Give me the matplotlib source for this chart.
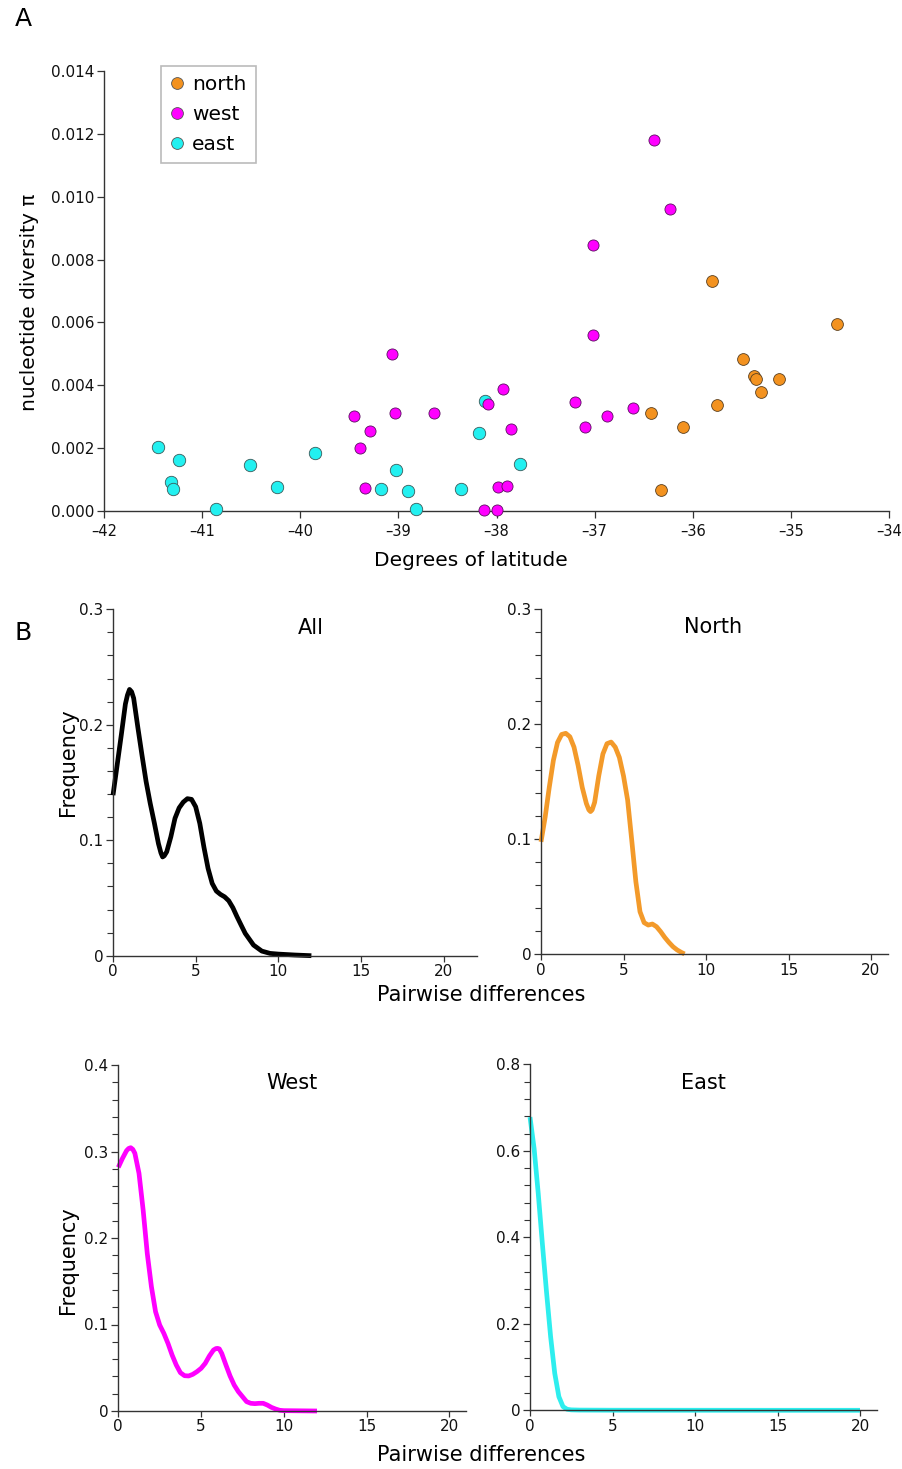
import matplotlib
matplotlib.use("Agg")
import matplotlib.pyplot as plt
from matplotlib.ticker import MultipleLocator, FuncFormatter
from matplotlib.lines import Line2D

plt.rcParams['font.family'] = ['DejaVu Sans']

# ---------------- Panel A: nucleotide diversity vs latitude ----------------
north_lat = [-35.80, -34.53, -35.49, -35.38, -35.36, -35.12, -35.30, -35.75,
             -36.43, -36.10, -36.32]
north_pi = [0.00733, 0.00596, 0.00484, 0.00429, 0.00420, 0.00420, 0.00380,
            0.00338, 0.00312, 0.00268, 0.00066]

west_lat = [-39.45, -39.29, -39.39, -39.34, -39.06, -39.03, -38.64, -38.09,
            -37.93, -37.85, -37.98, -37.89, -38.13, -37.99, -37.20, -37.10,
            -36.87, -36.61, -37.02, -37.02, -36.40, -36.23]
west_pi = [0.00303, 0.00256, 0.00201, 0.00074, 0.00501, 0.00312, 0.00312,
           0.00339, 0.00388, 0.00262, 0.00075, 0.00079, 0.00004, 0.00004,
           0.00348, 0.00268, 0.00303, 0.00329, 0.00561, 0.00845, 0.01179,
           0.00961]

east_lat = [-41.45, -41.32, -41.30, -41.24, -40.86, -40.51, -40.24, -39.85,
            -39.18, -39.02, -38.90, -38.82, -38.36, -38.18, -38.12, -37.76]
east_pi = [0.00203, 0.00093, 0.00070, 0.00162, 0.00005, 0.00146, 0.00075,
           0.00183, 0.00070, 0.00130, 0.00064, 0.00005, 0.00071, 0.00249,
           0.00350, 0.00148]

group_labels = ['north', 'west', 'east']

# ---------------- Panel B: mismatch distributions ----------------
all_x = [0, 0.25, 0.5, 0.75, 0.875, 1.0, 1.125, 1.25, 1.5, 1.75, 2.0, 2.25,
         2.5, 2.75, 2.9, 3.0, 3.1, 3.25, 3.5, 3.75, 4.0, 4.25, 4.5, 4.75,
         5.0, 5.25, 5.5, 5.75, 6.0, 6.25, 6.5, 6.75, 7.0, 7.25, 7.5, 7.75,
         8.0, 8.5, 9.0, 9.5, 10, 11, 12]
all_y = [0.139, 0.165, 0.191, 0.218, 0.2257, 0.2306, 0.2286, 0.223, 0.198,
         0.174, 0.151, 0.132, 0.115, 0.097, 0.089, 0.0855, 0.0865, 0.090,
         0.103, 0.119, 0.128, 0.133, 0.136, 0.1354, 0.129, 0.1146, 0.094,
         0.0756, 0.0626, 0.056, 0.0531, 0.051, 0.0476, 0.0416, 0.0338,
         0.0265, 0.0193, 0.0092, 0.004, 0.002, 0.0014, 0.0006, 0.0]

north_x = [0, 0.25, 0.5, 0.75, 1.0, 1.25, 1.5, 1.75, 2.0, 2.25, 2.5, 2.75,
           2.9, 3.0, 3.1, 3.25, 3.5, 3.75, 4.0, 4.25, 4.5, 4.75, 5.0, 5.25,
           5.5, 5.75, 6.0, 6.25, 6.5, 6.75, 7.0, 7.25, 7.5, 7.75, 8.0, 8.25,
           8.5, 8.7]
north_y = [0.0977, 0.119, 0.145, 0.1685, 0.184, 0.191, 0.192, 0.189, 0.180,
           0.164, 0.145, 0.131, 0.1255, 0.124, 0.1255, 0.132, 0.155, 0.174,
           0.183, 0.1844, 0.180, 0.171, 0.155, 0.134, 0.099, 0.063, 0.037,
           0.0275, 0.0254, 0.0263, 0.024, 0.0197, 0.0147, 0.0104, 0.0066,
           0.0038, 0.0017, 0.0003]

west_x = [0, 0.25, 0.5, 0.625, 0.75, 0.875, 1.0, 1.25, 1.5, 1.75, 2.0, 2.25,
          2.5, 2.75, 3.0, 3.25, 3.5, 3.75, 4.0, 4.25, 4.5, 4.75, 5.0, 5.25,
          5.5, 5.75, 5.9, 6.0, 6.1, 6.25, 6.5, 6.75, 7.0, 7.25, 7.5, 7.75,
          8.0, 8.25, 8.5, 8.75, 9.0, 9.25, 9.5, 9.75, 10, 11, 12]
west_y = [0.2817, 0.292, 0.301, 0.3035, 0.3044, 0.3025, 0.298, 0.2748,
          0.2324, 0.182, 0.1437, 0.1148, 0.0994, 0.0898, 0.0782, 0.0647,
          0.0532, 0.0443, 0.0408, 0.0405, 0.0424, 0.0455, 0.0493, 0.0551,
          0.0636, 0.0705, 0.0722, 0.0724, 0.0718, 0.0665, 0.0532, 0.0405,
          0.030, 0.0224, 0.0166, 0.0108, 0.0089, 0.0085, 0.0089, 0.0089,
          0.0069, 0.0042, 0.0023, 0.0008, 0.0004, 0.0002, 0.0]

east_x = [0, 0.25, 0.5, 0.75, 1.0, 1.25, 1.5, 1.75, 2.0, 2.25, 2.5, 3, 5,
          10, 15, 20]
east_y = [0.678, 0.605, 0.501, 0.385, 0.274, 0.170, 0.0854, 0.0315, 0.0085,
          0.0023, 0.001, 0.0005, 0.0002, 0.0001, 0.0, 0.0]

ORANGE = '#f3921f'
MAGENTA = '#ff00ff'
CYAN = '#22f0f0'
AXCOL = '#333333'

W, H = 902, 1469
fig = plt.figure(figsize=(W / 100, H / 100), dpi=100)


def box(left, top, right, bottom):
    return [left / W, 1 - bottom / H, (right - left) / W, (bottom - top) / H]


def style_axes(ax):
    for s in ('top', 'right'):
        ax.spines[s].set_visible(False)
    for s in ('left', 'bottom'):
        ax.spines[s].set_color(AXCOL)
        ax.spines[s].set_linewidth(1.0)
    ax.tick_params(which='major', direction='out', length=5, width=0.9,
                   color=AXCOL, labelsize=11, pad=2, labelcolor='#111111')
    ax.tick_params(which='minor', direction='out', length=4, width=0.8,
                   color=AXCOL)


# Panel A
axA = fig.add_axes(box(104, 71, 889, 511))
style_axes(axA)
axA.scatter(east_lat, east_pi, s=80, c=CYAN, edgecolors='#3a5a5a',
            linewidths=0.6, clip_on=False, zorder=3)
axA.scatter(west_lat, west_pi, s=64, c=MAGENTA, edgecolors='#5a1060',
            linewidths=0.6, clip_on=False, zorder=4)
axA.scatter(north_lat, north_pi, s=72, c=ORANGE, edgecolors='#5a4020',
            linewidths=0.6, clip_on=False, zorder=4)
axA.set_xlim(-42, -34)
axA.set_ylim(0, 0.014)
axA.xaxis.set_major_locator(MultipleLocator(1))
axA.xaxis.set_major_formatter(
    FuncFormatter(lambda v, p: f'{v:.0f}'.replace('-', '\u2013')))
axA.yaxis.set_major_locator(MultipleLocator(0.002))
axA.yaxis.set_major_formatter(FuncFormatter(lambda v, p: f'{v:.3f}'))
axA.tick_params(axis='x', labelsize=10.5, pad=4)

handles = [Line2D([], [], ls='', marker='o', ms=8.5, mfc=c, mec='#555555',
                  mew=0.6) for c in (ORANGE, MAGENTA, CYAN)]
leg = axA.legend(handles, group_labels, loc='upper left',
                 bbox_to_anchor=((161 - 104) / 785, 1 + 5 / 440),
                 borderaxespad=0, fontsize=14.5, frameon=True, fancybox=False,
                 edgecolor='#aaaaaa', handlelength=0.7, handletextpad=0.4,
                 labelspacing=0.55, borderpad=0.45)
leg.get_frame().set_linewidth(1.2)

fig.text(30 / W, 1 - 302 / H, 'nucleotide diversity π', rotation=90,
         ha='center', va='center', fontsize=14.5)
fig.text(471 / W, 1 - 560 / H, 'Degrees of latitude', ha='center',
         va='center', fontsize=14.5)
fig.text(23 / W, 1 - 19.5 / H, 'A', ha='center', va='center', fontsize=18)
fig.text(23 / W, 1 - 633 / H, 'B', ha='center', va='center', fontsize=18)

# Panel B
zero_fmt = FuncFormatter(lambda v, p: '0' if abs(v) < 1e-12 else f'{v:g}')

panels = [
    (box(113, 609.3, 476.7, 955.7), all_x, all_y, 'black', 'All', 22, 0.3,
     0.1, 0.02, 311, 628),
    (box(541, 609, 887.5, 954.3), north_x, north_y, '#f39a2a', 'North', 21,
     0.3, 0.1, 0.02, 713, 627),
    (box(118.3, 1065, 466, 1411), west_x, west_y, MAGENTA, 'West', 21, 0.4,
     0.1, 0.02, 292, 1083),
    (box(530, 1064.3, 876.5, 1410.3), east_x, east_y, '#2eeeee', 'East', 21,
     0.8, 0.2, 0.04, 703, 1083),
]

for rect, xs, ys, col, name, xmax, ymax, major, minor, tx, ty in panels:
    ax = fig.add_axes(rect)
    style_axes(ax)
    ax.plot(xs, ys, color=col, lw=3.4, solid_capstyle='butt',
            solid_joinstyle='round', clip_on=False)
    ax.set_xlim(0, xmax)
    ax.set_ylim(0, ymax)
    ax.xaxis.set_major_locator(MultipleLocator(5))
    ax.yaxis.set_major_locator(MultipleLocator(major))
    ax.yaxis.set_minor_locator(MultipleLocator(minor))
    ax.xaxis.set_major_formatter(zero_fmt)
    ax.yaxis.set_major_formatter(zero_fmt)
    ax.tick_params(axis='x', length=4, labelsize=11)
    fig.text(tx / W, 1 - ty / H, name, ha='center', va='center', fontsize=15)

fig.text(68 / W, 1 - 762 / H, 'Frequency', rotation=90, ha='center',
         va='center', fontsize=15)
fig.text(68 / W, 1 - 1260 / H, 'Frequency', rotation=90, ha='center',
         va='center', fontsize=15)
fig.text(481 / W, 1 - 995 / H, 'Pairwise differences', ha='center',
         va='center', fontsize=15)
fig.text(481 / W, 1 - 1455 / H, 'Pairwise differences', ha='center',
         va='center', fontsize=15)

fig.savefig('out.png', dpi=100, facecolor='white')
